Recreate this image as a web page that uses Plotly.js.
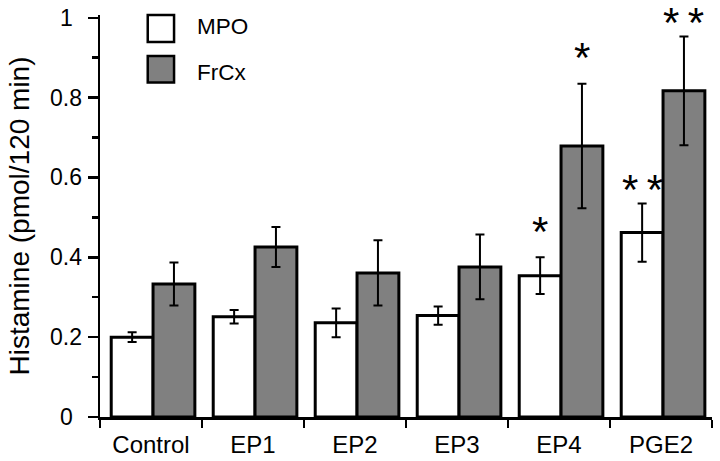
<!DOCTYPE html>
<html>
<head>
<meta charset="utf-8">
<script src="https://cdn.plot.ly/plotly-3.0.1.min.js"></script>
<style>html,body{margin:0;padding:0;background:#fff;}#chart{width:720px;height:461px;}</style>
</head>
<body>
<div id="chart"></div>
<script>
var categories = ["Control", "EP1", "EP2", "EP3", "EP4", "PGE2"];
var mpoValues = [0.200, 0.251, 0.236, 0.254, 0.354, 0.462];
var mpoErrors = [0.012, 0.017, 0.036, 0.023, 0.046, 0.073];
var frcxValues = [0.333, 0.426, 0.361, 0.376, 0.679, 0.817];
var frcxErrors = [0.054, 0.050, 0.082, 0.081, 0.156, 0.136];
var mpoSig = ["", "", "", "", "*", "**"];
var frcxSig = ["", "", "", "", "*", "**"];
var seriesNames = ["MPO", "FrCx"];
var yTicks = [0, 0.2, 0.4, 0.6, 0.8, 1];
var yTickLabels = ["0", "0.2", "0.4", "0.6", "0.8", "1"];

var BAR_W = 0.41, OFF_MPO = -0.39, OFF_FRCX = 0.02;
var FONT = "Liberation Sans, Arial, sans-serif";
var STAR_SIZE = 42;

var traces = [
  {type: "bar", name: seriesNames[0], x: categories, y: mpoValues,
   width: BAR_W, offset: OFF_MPO,
   marker: {color: "#ffffff", line: {color: "#000000", width: 3}},
   error_y: {type: "data", array: mpoErrors, visible: true, color: "#000000", thickness: 2, width: 4.5}},
  {type: "bar", name: seriesNames[1], x: categories, y: frcxValues,
   width: BAR_W, offset: OFF_FRCX,
   marker: {color: "#808080", line: {color: "#000000", width: 3}},
   error_y: {type: "data", array: frcxErrors, visible: true, color: "#000000", thickness: 2, width: 4.5}}
];

var annotations = [];
function addSig(sig, vals, errs, off) {
  for (var i = 0; i < sig.length; i++) {
    if (!sig[i]) continue;
    var gap = sig[i].length > 1 ? 22 : 34;
    annotations.push({
      x: i + off + BAR_W / 2, y: vals[i] + errs[i], xref: "x", yref: "y",
      text: sig[i].split("").join("\u2009"), showarrow: false, yanchor: "bottom",
      yshift: gap - 0.8 * STAR_SIZE,
      font: {family: FONT, size: STAR_SIZE, color: "#000"}
    });
  }
}
addSig(mpoSig, mpoValues, mpoErrors, OFF_MPO);
addSig(frcxSig, frcxValues, frcxErrors, OFF_FRCX);

// y tick labels (centred, as in the reference)
for (var k = 0; k < yTicks.length; k++) {
  annotations.push({xref: "paper", yref: "y", x: 0, y: yTicks[k], xshift: -34,
    xanchor: "center", yanchor: "middle", showarrow: false, text: yTickLabels[k],
    font: {family: FONT, size: 23, color: "#000"}});
}

// legend (custom, drawn in paper coords)
var shapes = [
  {type: "rect", xref: "paper", yref: "paper", x0: 0.078, x1: 0.121, y0: 0.933, y1: 1.0,
   fillcolor: "#ffffff", line: {color: "#000", width: 2.5}},
  {type: "rect", xref: "paper", yref: "paper", x0: 0.078, x1: 0.121, y0: 0.832, y1: 0.898,
   fillcolor: "#808080", line: {color: "#000", width: 2.5}}
];
annotations.push({xref: "paper", yref: "paper", x: 0.155, y: 0.972, xanchor: "left", yanchor: "middle",
  text: seriesNames[0], showarrow: false, font: {family: FONT, size: 22.5, color: "#000"}});
annotations.push({xref: "paper", yref: "paper", x: 0.155, y: 0.858, xanchor: "left", yanchor: "middle",
  text: seriesNames[1], showarrow: false, font: {family: FONT, size: 22.5, color: "#000"}});

var layout = {
  width: 720, height: 461,
  margin: {l: 100, r: 8, t: 15, b: 44, pad: 0},
  paper_bgcolor: "#ffffff", plot_bgcolor: "#ffffff",
  showlegend: false,
  barmode: "overlay",
  font: {family: FONT, color: "#000"},
  xaxis: {
    type: "category", range: [-0.5, 5.5], tickson: "boundaries",
    showline: true, linecolor: "#000", linewidth: 2.5,
    ticks: "outside", ticklen: 8, tickwidth: 2.5, tickcolor: "#000",
    showgrid: false, zeroline: false, ticklabelstandoff: 5,
    tickfont: {family: FONT, size: 24, color: "#000"}
  },
  yaxis: {
    range: [0, 1.007], tickvals: yTicks, showticklabels: false,
    showline: true, linecolor: "#000", linewidth: 2.5,
    ticks: "outside", ticklen: 10, tickwidth: 2.5, tickcolor: "#000",
    minor: {dtick: 0.1, ticks: "outside", ticklen: 6, tickwidth: 2.5, tickcolor: "#000", showgrid: false},
    showgrid: false, zeroline: false,
    title: {text: "Histamine (pmol/120 min)", font: {family: FONT, size: 28, color: "#000"}, standoff: 50}
  },
  shapes: shapes,
  annotations: annotations
};

Plotly.newPlot("chart", traces, layout, {displayModeBar: false, staticPlot: true});
</script>
</body>
</html>
